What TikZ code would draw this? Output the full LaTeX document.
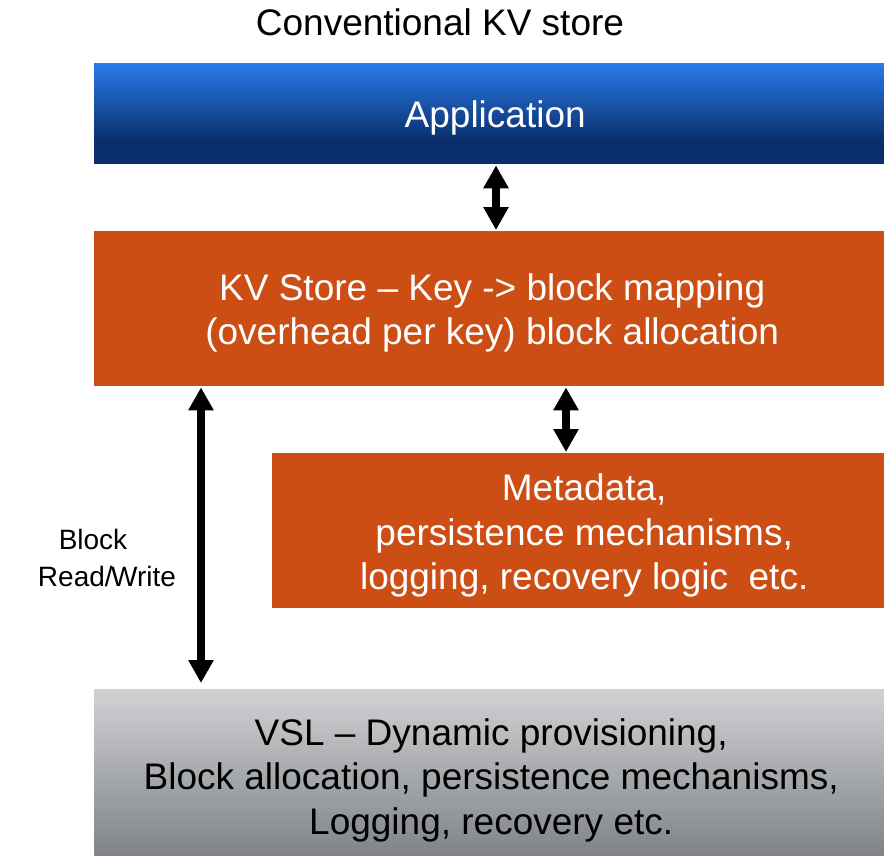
\documentclass[tikz,border=0pt]{standalone}
\usepackage{fontspec}
\setmainfont{Liberation Sans}
\usetikzlibrary{arrows.meta}
\definecolor{appTop}{RGB}{42,123,234}
\definecolor{appBot}{RGB}{10,47,108}
\definecolor{rust}{RGB}{204,78,20}
\definecolor{vslTop}{RGB}{208,209,211}
\definecolor{vslBot}{RGB}{126,130,134}
\tikzset{
  layer/.style={anchor=north west, inner sep=0pt, draw=none},
  layertext/.style={inner sep=0pt, align=center, font=\fontsize{37}{44.5}\selectfont},
  biarrow/.style={line width=8pt, {Triangle[width=24pt,length=23pt]}-{Triangle[width=24pt,length=23pt]}},
}
\begin{document}
\begin{tikzpicture}[x=1pt,y=-1pt]
\useasboundingbox (0,0) rectangle (884,856);
\clip (0,0) rectangle (884,856);

\node[font=\fontsize{37}{44}\selectfont] (title) at (440,22) {Conventional KV store};

% application layer: blue gradient that settles into a flat dark tone
\node[layer, minimum width=802pt, minimum height=101pt,
  path picture={
    \fill[appBot] (path picture bounding box.north west) rectangle (path picture bounding box.south east);
    \shade[top color=appTop, bottom color=appBot]
      (path picture bounding box.north west) rectangle ([yshift=24pt]path picture bounding box.south east);
  }] (app) at (94,63) {};
\node[layertext, text=white] (appT) at ([yshift=-4pt]app.center) {Application};

\node[layer, minimum width=796pt, minimum height=155pt, fill=rust] (kv) at (94,231) {};
\node[layertext, text=white] (kvT) at ([yshift=-4pt]kv.center)
  {KV Store -- Key -> block mapping\\(overhead per key) block allocation};

\node[layer, minimum width=624pt, minimum height=155pt, fill=rust] (meta) at (272,453) {};
\node[layertext, text=white] (metaT) at ([yshift=-5pt]meta.center)
  {Metadata,\\persistence mechanisms,\\logging, recovery logic\ \ etc.};

\node[layer, minimum width=794pt, minimum height=170pt,
  path picture={
    \shade[top color=vslTop, bottom color=vslBot]
      (path picture bounding box.north west) rectangle (path picture bounding box.south east);
  }] (vsl) at (94,689) {};
\node[layertext, text=black] (vslT) at ([yshift=-6pt]vsl.center)
  {VSL -- Dynamic provisioning,\\Block allocation, persistence mechanisms,\\Logging, recovery etc.};

\node[align=center, font=\fontsize{28}{37}\selectfont] (rw) at (107,558)
  {Block\hspace*{28pt}\\Read/\kern-1.5pt Write};

% horizontal positions of the three connectors
\coordinate (xa) at (496,0);
\coordinate (xb) at (201,0);
\coordinate (xc) at (566,0);

% connectors between the layers
\draw[biarrow] ([yshift=-1pt]app.south -| xa) -- ([yshift=1pt]kv.north -| xa);
\draw[biarrow] ([yshift=-1pt]kv.south -| xb) -- ([yshift=6pt]vsl.north -| xb);
\draw[biarrow] ([yshift=-1pt]kv.south -| xc) -- ([yshift=1pt]meta.north -| xc);
\end{tikzpicture}
\end{document}
